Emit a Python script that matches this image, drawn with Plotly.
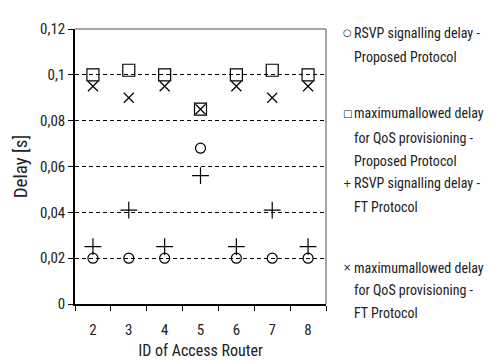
import plotly.graph_objects as go

routers = ["2", "3", "4", "5", "6", "7", "8"]
rsvp_proposed = [0.020, 0.020, 0.020, 0.068, 0.020, 0.020, 0.020]
max_proposed = [0.100, 0.102, 0.100, 0.085, 0.100, 0.102, 0.100]
rsvp_ft = [0.025, 0.041, 0.025, 0.056, 0.025, 0.041, 0.025]
max_ft = [0.095, 0.090, 0.095, 0.085, 0.095, 0.090, 0.095]

y_ticks = [0, 0.02, 0.04, 0.06, 0.08, 0.1, 0.12]
y_tick_labels = ["0", "0,02", "0,04", "0,06", "0,08", "0,1", "0,12"]

series_lines = [
    ["RSVP signalling delay -", "Proposed Protocol"],
    ["maximumallowed delay", "for QoS provisioning -", "Proposed Protocol"],
    ["RSVP signalling delay -", "FT Protocol"],
    ["maximumallowed delay", "for QoS provisioning -", "FT Protocol"],
]
legend_symbols = ["○", "□", "+", "×"]

FONT = "Roboto Condensed, Liberation Sans, Arial, sans-serif"
TXT = "#222"

fig = go.Figure()
specs = [
    (rsvp_proposed, "circle-open", 10),
    (max_proposed, "square-open", 12),
    (rsvp_ft, "cross-thin-open", 12),
    (max_ft, "x-thin-open", 10),
]
for (vals, sym, sz), lines in zip(specs, series_lines):
    fig.add_trace(go.Scatter(
        x=routers, y=vals, mode="markers", name=" ".join(lines), showlegend=False,
        marker=dict(symbol=sym, size=sz, color="black",
                    line=dict(color="black", width=1.2)),
    ))

L, R, T, B = 67, 182, 19, 62
W, H = 500, 361
pw = W - L - R
ph = H - T - B

def px2paper(px, py):
    return (px - L) / pw, (H - B - py) / ph

# legend line centres (pixels from the top)
legend_line_y = [[23, 48], [105, 130, 153], [176, 200], [262, 285, 308]]
for sym, lines, ys in zip(legend_symbols, series_lines, legend_line_y):
    for line, py in zip(lines, ys):
        tx, ty = px2paper(346, py)
        fig.add_annotation(xref="paper", yref="paper", x=tx, y=ty, text=line,
                           showarrow=False, xanchor="left", yanchor="middle",
                           borderpad=0, borderwidth=0,
                           font=dict(family=FONT, size=14, color=TXT))
    mx, my = px2paper(339, ys[0])
    fig.add_annotation(xref="paper", yref="paper", x=mx, y=my, text=sym,
                       showarrow=False, xanchor="center", yanchor="middle",
                       borderpad=0, borderwidth=0,
                       font=dict(family="DejaVu Sans", size=10, color=TXT))

fig.update_layout(
    width=W, height=H,
    margin=dict(l=L, r=R, t=T, b=B),
    paper_bgcolor="white", plot_bgcolor="white",
    font=dict(family=FONT, size=15, color=TXT),
    xaxis=dict(
        type="category", categoryorder="array", categoryarray=routers,
        range=[-0.5, 6.5], tickson="boundaries", ticks="outside", ticklen=5,
        tickcolor="black", showline=True, linecolor="black", linewidth=1.5,
        showgrid=False, ticklabelstandoff=11,
        title=dict(text="ID of Access Router", standoff=7,
                   font=dict(family=FONT, size=16)),
    ),
    yaxis=dict(
        range=[0, 0.12], tickvals=y_ticks, ticktext=y_tick_labels,
        ticks="outside", ticklen=5, tickcolor="black",
        showline=True, linecolor="black", linewidth=1.5,
        showgrid=True, gridcolor="black", gridwidth=1, griddash="4px,3px",
        zeroline=False,
        title=dict(text="Delay [s]", standoff=7, font=dict(family=FONT, size=19)),
    ),
)

# grey top and right border of the plot area
fig.add_shape(type="line", xref="paper", yref="paper", x0=0, x1=1, y0=1, y1=1,
              line=dict(color="#888", width=1.5), layer="above")
fig.add_shape(type="line", xref="paper", yref="paper", x0=1, x1=1, y0=0, y1=1,
              line=dict(color="#888", width=1.5), layer="above")

fig.write_html("out.html")
